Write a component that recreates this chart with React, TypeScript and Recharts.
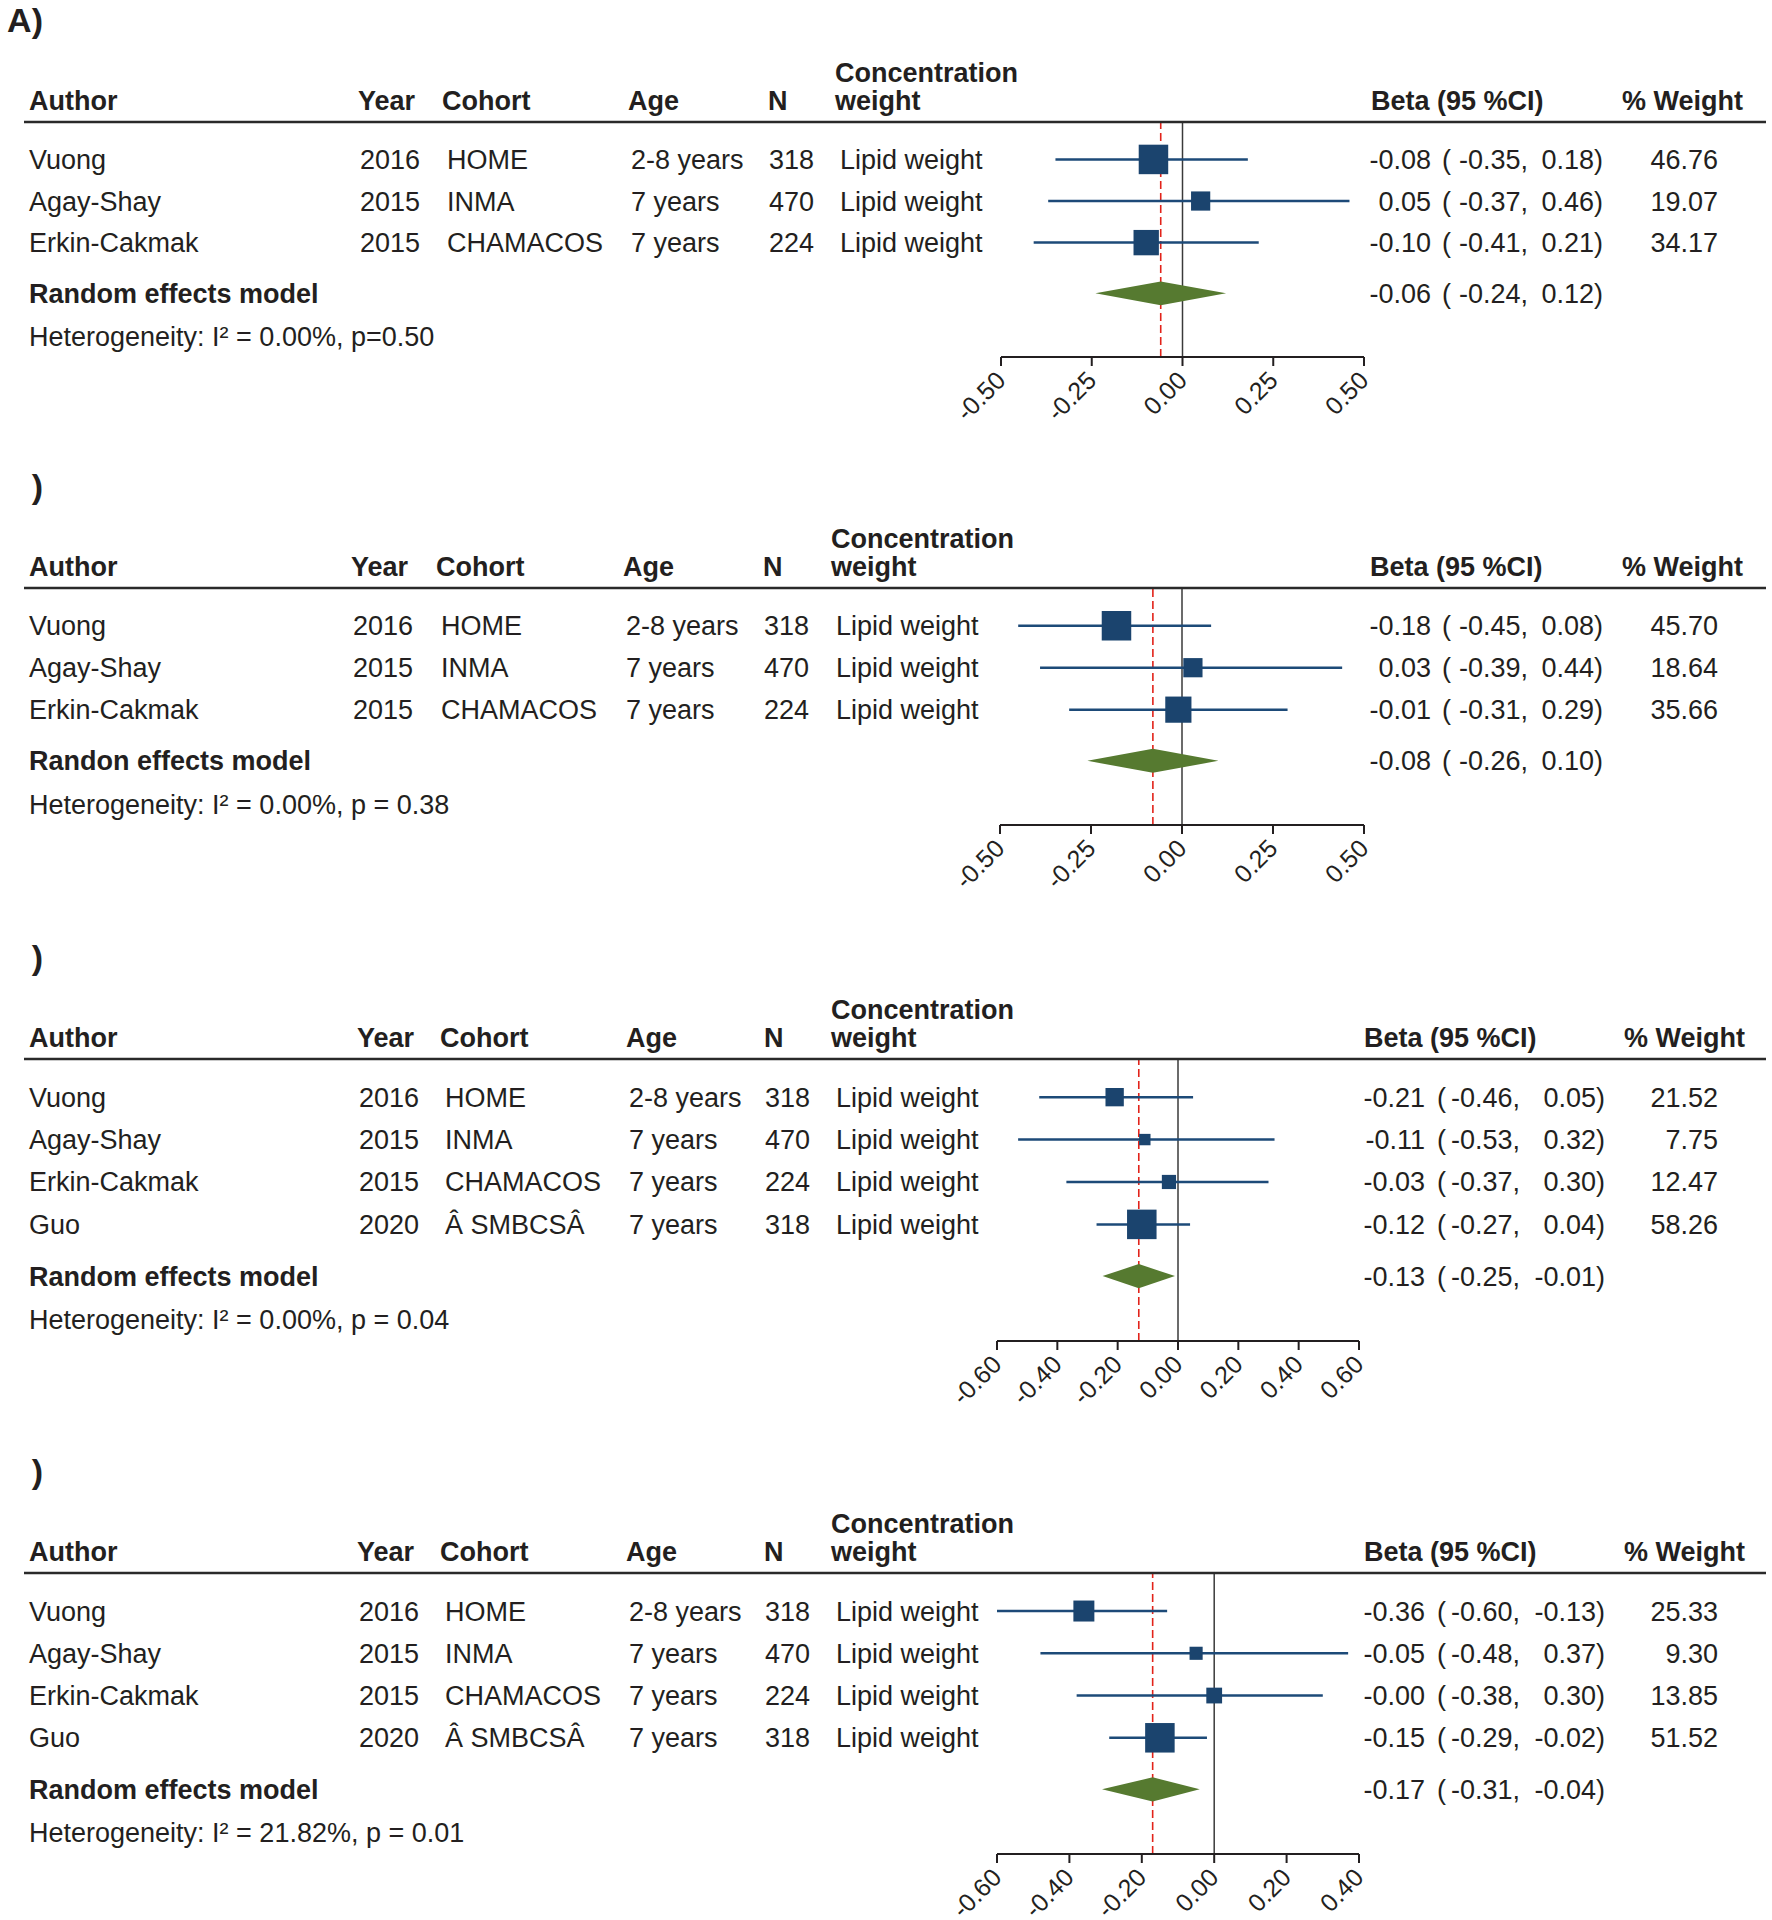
import React from 'react'
import {
  ComposedChart,
  Scatter,
  XAxis,
  YAxis,
  ReferenceLine,
  ReferenceArea,
  ReferenceDot,
} from 'recharts'

// study table (same studies in every panel, Guo only in C and D)
const AUTHORS = ['Vuong', 'Agay-Shay', 'Erkin-Cakmak', 'Guo']
const YEARS = ['2016', '2015', '2015', '2020']
const COHORTS = ['HOME', 'INMA', 'CHAMACOS', 'Â SMBCSÂ']
const AGES = ['2-8 years', '7 years', '7 years', '7 years']
const NS = ['318', '470', '224', '318']
const CONC = ['Lipid weight', 'Lipid weight', 'Lipid weight', 'Lipid weight']
const HEADERS = ['Author', 'Year', 'Cohort', 'Age', 'N', 'Concentration', 'weight', 'Beta (95 %CI)', '% Weight']

// panel A
const A_EST = [-0.08, 0.05, -0.1]
const A_LO = [-0.35, -0.37, -0.41]
const A_HI = [0.18, 0.46, 0.21]
const A_WT = [46.76, 19.07, 34.17]
const A_POOLED = [-0.06, -0.24, 0.12]
const A_TICKS = [-0.5, -0.25, 0, 0.25, 0.5]

// panel B
const B_EST = [-0.18, 0.03, -0.01]
const B_LO = [-0.45, -0.39, -0.31]
const B_HI = [0.08, 0.44, 0.29]
const B_WT = [45.7, 18.64, 35.66]
const B_POOLED = [-0.08, -0.26, 0.1]
const B_TICKS = [-0.5, -0.25, 0, 0.25, 0.5]

// panel C
const C_EST = [-0.21, -0.11, -0.03, -0.12]
const C_LO = [-0.46, -0.53, -0.37, -0.27]
const C_HI = [0.05, 0.32, 0.3, 0.04]
const C_WT = [21.52, 7.75, 12.47, 58.26]
const C_POOLED = [-0.13, -0.25, -0.01]
const C_TICKS = [-0.6, -0.4, -0.2, 0, 0.2, 0.4, 0.6]

// panel D
const D_EST = [-0.36, -0.05, -0.0, -0.15]
const D_LO = [-0.6, -0.48, -0.38, -0.29]
const D_HI = [-0.13, 0.37, 0.3, -0.02]
const D_WT = [25.33, 9.3, 13.85, 51.52]
const D_POOLED = [-0.17, -0.31, -0.04]
const D_TICKS = [-0.6, -0.4, -0.2, 0, 0.2, 0.4]

const FONT = '"Liberation Sans", Arial, Helvetica, sans-serif'
const INK = '#231f20'
const BLUE = '#1b446e'
const CI_BLUE = '#1d4a78'
const GREEN = '#567a30'
const RED = '#e2231a'

const CHART_W = 1772
const HEAD = 130
const AXIS_H = 80
const ROW_OFF = 0.9
const RE_OFF = 1.12
const HET_OFF = 2.15
const EXTRA = 2.65
const FS = 27
const BASE = 9.5

const fmt = (v: number) => (v < 0 || Object.is(v, -0) ? '-' + Math.abs(v).toFixed(2) : v.toFixed(2))

interface Cols {
  year: number
  cohort: number
  age: number
  n: number
  conc: number
  beta: number
  est: number
  paren: number
  lo: number
  hi: number
  weight: number
  wtHead: number
}

interface PanelSpec {
  id: string
  label: string
  est: number[]
  lo: number[]
  hi: number[]
  wt: number[]
  pooled: number[]
  ticks: number[]
  reLabel: string
  het: string
  line: number
  plotH: number
  left: number
  right: number
  cols: Cols
}

const COLS_AB = { est: 1431, paren: 1442, lo: 1528, hi: 1603, weight: 1718 }
const COLS_CD = { est: 1425, paren: 1437, lo: 1520, hi: 1605, weight: 1718 }

const PANELS: PanelSpec[] = [
  {
    id: 'A', label: 'A)', est: A_EST, lo: A_LO, hi: A_HI, wt: A_WT, pooled: A_POOLED, ticks: A_TICKS,
    reLabel: 'Random effects model', het: 'Heterogeneity: I² = 0.00%, p=0.50',
    line: 122, plotH: 235, left: 1001, right: 1364,
    cols: { year: 358, cohort: 442, age: 628, n: 768, conc: 835, beta: 1371, wtHead: 1622, ...COLS_AB },
  },
  {
    id: 'B', label: ')', est: B_EST, lo: B_LO, hi: B_HI, wt: B_WT, pooled: B_POOLED, ticks: B_TICKS,
    reLabel: 'Randon effects model', het: 'Heterogeneity: I² = 0.00%, p = 0.38',
    line: 588, plotH: 237, left: 1000, right: 1364,
    cols: { year: 351, cohort: 436, age: 623, n: 763, conc: 831, beta: 1370, wtHead: 1622, ...COLS_AB },
  },
  {
    id: 'C', label: ')', est: C_EST, lo: C_LO, hi: C_HI, wt: C_WT, pooled: C_POOLED, ticks: C_TICKS,
    reLabel: 'Random effects model', het: 'Heterogeneity: I² = 0.00%, p = 0.04',
    line: 1059, plotH: 282, left: 997, right: 1359,
    cols: { year: 357, cohort: 440, age: 626, n: 764, conc: 831, beta: 1364, wtHead: 1624, ...COLS_CD },
  },
  {
    id: 'D', label: ')', est: D_EST, lo: D_LO, hi: D_HI, wt: D_WT, pooled: D_POOLED, ticks: D_TICKS,
    reLabel: 'Random effects model', het: 'Heterogeneity: I² = 21.82%, p = 0.01',
    line: 1573, plotH: 281, left: 997, right: 1359,
    cols: { year: 357, cohort: 440, age: 626, n: 764, conc: 831, beta: 1364, wtHead: 1624, ...COLS_CD },
  },
]

const AxisTick = (props: any) => {
  const { x, y, payload } = props
  const ax = x + 6
  const ay = y + 16
  return (
    <text
      x={ax}
      y={ay}
      textAnchor="end"
      transform={`rotate(-45 ${ax} ${ay})`}
      fontSize={25}
      fontFamily={FONT}
      fill={INK}
    >
      {fmt(payload.value)}
    </text>
  )
}

const betaCells = (cy: number, c: Cols, e: number, lo: number, hi: number, wt?: number) => {
  const ty = cy + BASE
  return (
    <g fontFamily={FONT} fontSize={FS} fill={INK}>
      <text x={c.est} y={ty} textAnchor="end">{fmt(e)}</text>
      <text x={c.paren} y={ty}>(</text>
      <text x={c.lo} y={ty} textAnchor="end">{fmt(lo) + ','}</text>
      <text x={c.hi} y={ty} textAnchor="end">{fmt(hi) + ')'}</text>
      {wt !== undefined && (
        <text x={c.weight} y={ty} textAnchor="end">{wt.toFixed(2)}</text>
      )}
    </g>
  )
}

const ForestPanel = ({ p }: { p: PanelSpec }) => {
  const n = p.est.length
  const wmax = Math.max(...p.wt)
  const rows = p.est.map((e, i) => ({
    est: e,
    lo: p.lo[i],
    hi: p.hi[i],
    wt: p.wt[i],
    row: i + ROW_OFF,
    idx: i,
    box: 1 + 28.5 * Math.sqrt(p.wt[i] / wmax),
  }))
  const reRow = n + RE_OFF
  const hetRow = n + HET_OFF
  const [pe, plo, phi] = p.pooled
  const c = p.cols
  const xMin = p.ticks[0]
  const xMax = p.ticks[p.ticks.length - 1]
  const height = HEAD + p.plotH + AXIS_H

  const studyShape = (props: any) => {
    const { cx, cy, payload } = props
    const s = payload.box
    const i = payload.idx
    const ty = cy + BASE
    return (
      <g>
        <rect x={cx - s / 2} y={cy - s / 2} width={s} height={s} fill={BLUE} />
        <g fontFamily={FONT} fontSize={FS} fill={INK}>
          <text x={29} y={ty}>{AUTHORS[i]}</text>
          <text x={c.year + 2} y={ty}>{YEARS[i]}</text>
          <text x={c.cohort + 5} y={ty}>{COHORTS[i]}</text>
          <text x={c.age + 3} y={ty}>{AGES[i]}</text>
          <text x={c.n + 1} y={ty}>{NS[i]}</text>
          <text x={c.conc + 5} y={ty}>{CONC[i]}</text>
        </g>
        {betaCells(cy, c, payload.est, payload.lo, payload.hi, payload.wt)}
      </g>
    )
  }

  const headerShape = (props: any) => {
    const { cy } = props
    const hy = cy - 12
    return (
      <g fontFamily={FONT} fill={INK}>
        <text x={43} y={cy - 90} textAnchor="end" fontSize={34} fontWeight="bold">{p.label}</text>
        <line x1={24} x2={1766} y1={cy} y2={cy} stroke="#2a2a2a" strokeWidth={2.5} />
        <g fontSize={FS} fontWeight="bold">
          <text x={29} y={hy}>{HEADERS[0]}</text>
          <text x={c.year} y={hy}>{HEADERS[1]}</text>
          <text x={c.cohort} y={hy}>{HEADERS[2]}</text>
          <text x={c.age} y={hy}>{HEADERS[3]}</text>
          <text x={c.n} y={hy}>{HEADERS[4]}</text>
          <text x={c.conc} y={cy - 40}>{HEADERS[5]}</text>
          <text x={c.conc} y={hy}>{HEADERS[6]}</text>
          <text x={c.beta} y={hy}>{HEADERS[7]}</text>
          <text x={c.wtHead} y={hy}>{HEADERS[8]}</text>
        </g>
      </g>
    )
  }

  const hetShape = (props: any) => (
    <text x={29} y={props.cy + BASE} fontFamily={FONT} fontSize={FS} fill={INK}>
      {p.het}
    </text>
  )

  const diamondShape = (props: any) => {
    const { x, y, width, height: h } = props
    const f = (pe - plo) / (phi - plo)
    const mid = y + h / 2
    const pts = `${x},${mid} ${x + f * width},${y} ${x + width},${mid} ${x + f * width},${y + h}`
    return (
      <g>
        <polygon points={pts} fill={GREEN} />
        <text x={29} y={mid + BASE} fontFamily={FONT} fontSize={FS} fontWeight="bold" fill={INK}>
          {p.reLabel}
        </text>
        {betaCells(mid, c, pe, plo, phi)}
      </g>
    )
  }

  return (
    <div style={{ position: 'absolute', left: 0, top: p.line - HEAD }}>
      <ComposedChart
        width={CHART_W}
        height={height}
        margin={{ top: HEAD, right: CHART_W - p.right, bottom: 0, left: p.left }}
      >
        <XAxis
          type="number"
          dataKey="est"
          domain={[xMin, xMax]}
          ticks={p.ticks}
          interval={0}
          tickSize={9}
          tickMargin={0}
          height={AXIS_H}
          axisLine={{ stroke: INK, strokeWidth: 2 }}
          tickLine={{ stroke: INK, strokeWidth: 2 }}
          tick={(props: any) => <AxisTick {...props} />}
        />
        <YAxis type="number" dataKey="row" domain={[0, n + EXTRA]} reversed hide />
        <ReferenceLine x={0} stroke="#3a3a3a" strokeWidth={1.5} zIndex={50} />
        <ReferenceLine x={pe} stroke={RED} strokeWidth={1.6} strokeDasharray="8 4" zIndex={51} />
        {rows.map(r => (
          <ReferenceLine
            key={r.idx}
            segment={[{ x: r.lo, y: r.row }, { x: r.hi, y: r.row }]}
            stroke={CI_BLUE}
            strokeWidth={2.5}
            zIndex={60}
          />
        ))}
        <ReferenceArea
          x1={plo}
          x2={phi}
          y1={reRow - 0.285}
          y2={reRow + 0.285}
          shape={diamondShape}
          zIndex={70}
        />
        <ReferenceDot x={xMin} y={0} r={0} shape={headerShape} zIndex={90} />
        <ReferenceDot x={xMin} y={hetRow} r={0} shape={hetShape} zIndex={90} />
        <Scatter data={rows} shape={studyShape} isAnimationActive={false} zIndex={80} />
      </ComposedChart>
    </div>
  )
}

export default function App() {
  return (
    <div
      style={{
        position: 'absolute',
        left: 0,
        top: 0,
        width: 1772,
        height: 1920,
        overflow: 'hidden',
        background: '#fff',
        fontFamily: FONT,
      }}
    >
      {PANELS.map(p => (
        <ForestPanel key={p.id} p={p} />
      ))}
    </div>
  )
}
